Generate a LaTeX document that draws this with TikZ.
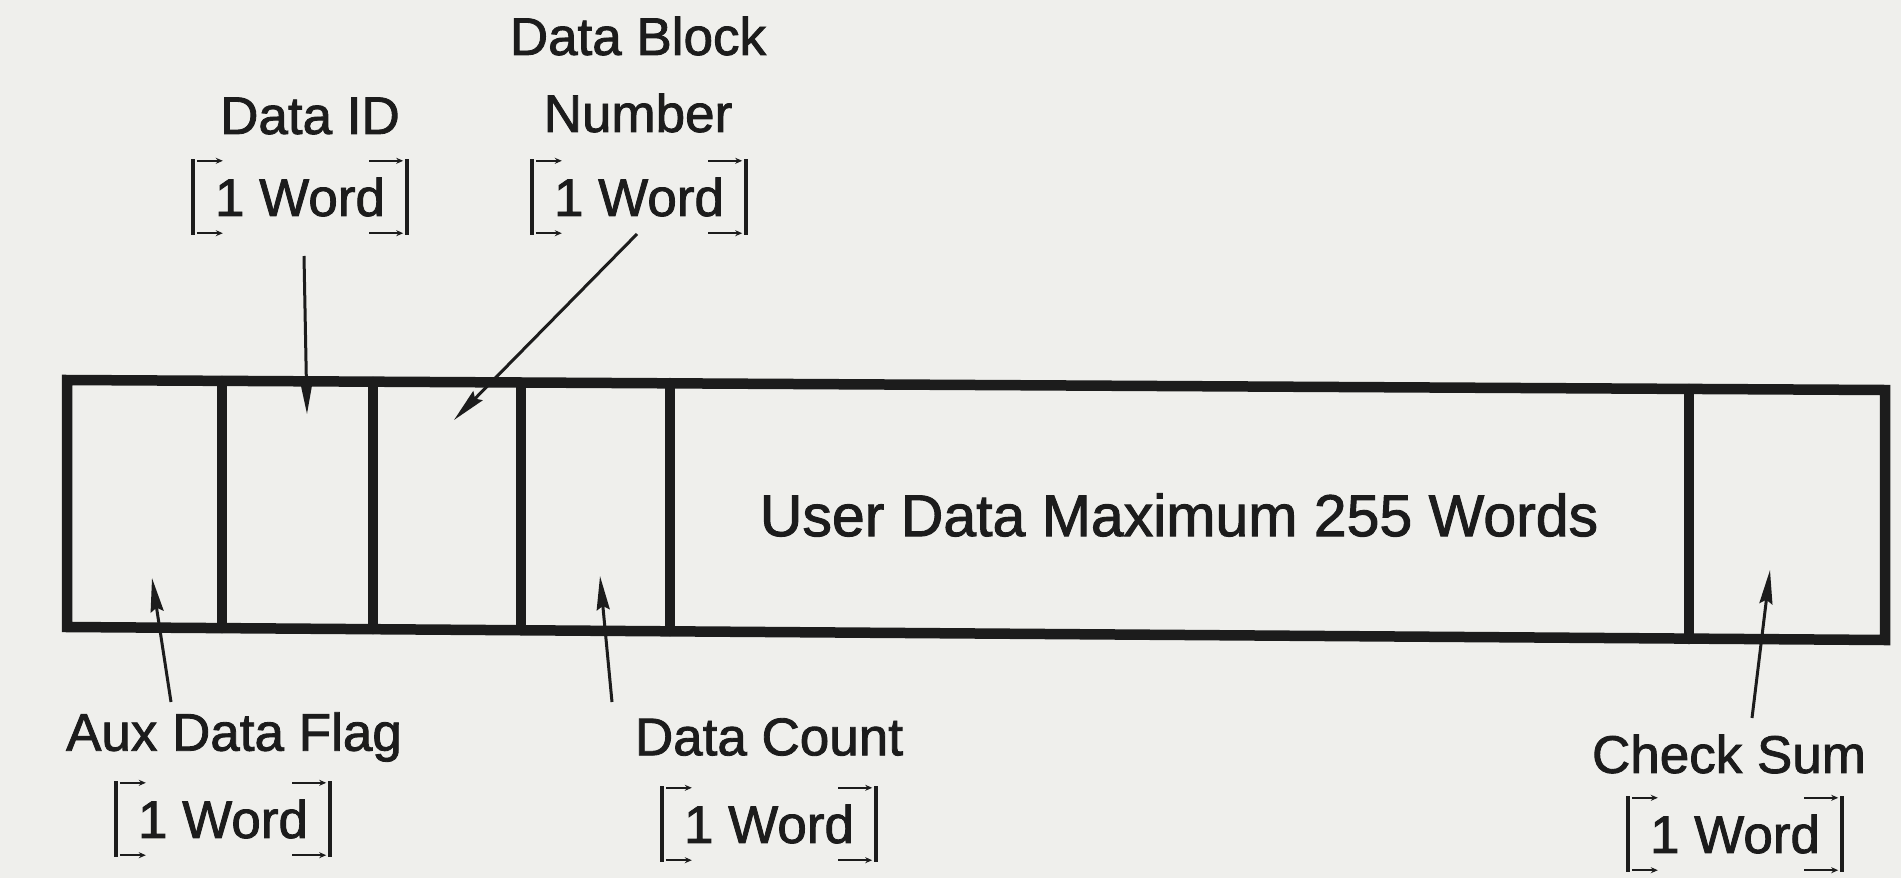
\documentclass[tikz,border=0pt]{standalone}
\usepackage{fontspec}
\setmainfont{Liberation Sans}[FakeBold=1.6]
\usetikzlibrary{arrows.meta}
\definecolor{paper}{RGB}{239,239,236}
\definecolor{ink}{RGB}{28,28,28}
\begin{document}
\begin{tikzpicture}[x=1pt,y=-1pt,
  boxline/.style={draw=ink,line width=10.5pt,line cap=round,line join=miter},
  lab/.style={font=\fontsize{53}{60}\selectfont,text=ink,inner sep=0pt},
  bigtxt/.style={font=\fontsize{59}{66}\selectfont,text=ink,inner sep=0pt},
  wordnode/.style={font=\fontsize{53}{60}\selectfont,text=ink,inner sep=0pt,minimum width=214pt,minimum height=72pt},
  brk/.style={draw=ink,line width=4.5pt},
  tick/.style={draw=ink,line width=2pt,-{Stealth[length=7pt,width=6pt]}},
  ptr/.style={draw=ink,line width=3pt,-{Stealth[length=34pt,width=13pt,inset=4pt]}}
]
\fill[paper] (0,0) rectangle (1901,878);
\useasboundingbox (0,0) rectangle (1901,878);

% cell corners (slightly tilted scan)
\coordinate (t0) at (67,380);   \coordinate (b0) at (67,627);
\coordinate (t1) at (222,381);  \coordinate (b1) at (222,628);
\coordinate (t2) at (373,382);  \coordinate (b2) at (373,629);
\coordinate (t3) at (521,382.5);\coordinate (b3) at (521,630);
\coordinate (t4) at (670,383);  \coordinate (b4) at (670,631);
\coordinate (t5) at (1689,389); \coordinate (b5) at (1689,639);
\coordinate (t6) at (1885,390); \coordinate (b6) at (1885,640);

\draw[boxline] (t0) -- (t6) -- (b6) -- (b0) -- cycle;
\foreach \i in {1,...,5} \draw[boxline] (t\i) -- (b\i);

\node[bigtxt] (user) at (1179,515) {User Data Maximum 255 Words};

% top labels
\node[lab] (blk1) at (638,36) {Data Block};
\node[lab] (blk2) at (638,113) {Number};
\node[wordnode] (wblk) at (639,197) {1 Word};
\node[lab] (did) at (310,116) {Data ID};
\node[wordnode] (wdid) at (300,197) {1 Word};

% bottom labels
\node[lab] (aux) at (234,737) {Aux Data Flag};
\node[wordnode] (waux) at (223,819) {1 Word};
\node[lab] (cnt) at (769,737) {Data Count};
\node[wordnode] (wcnt) at (769,824) {1 Word};
\node[lab] (chk) at (1729,754) {Check Sum};
\node[wordnode] (wchk) at (1735,834) {1 Word};

% brackets
\foreach \n in {wblk,wdid,waux,wcnt,wchk}{
  \draw[brk] ([xshift=2pt]\n.north west) -- (\n.north west) -- (\n.south west) -- ([xshift=2pt]\n.south west);
  \draw[brk] ([xshift=-2pt]\n.north east) -- (\n.north east) -- (\n.south east) -- ([xshift=-2pt]\n.south east);
  \draw[tick] ([xshift=4pt]\n.north west) -- ([xshift=30pt]\n.north west);
  \draw[tick] ([xshift=4pt]\n.south west) -- ([xshift=30pt]\n.south west);
  \draw[tick] ([xshift=-38pt]\n.north east) -- ([xshift=-4pt]\n.north east);
  \draw[tick] ([xshift=-38pt]\n.south east) -- ([xshift=-4pt]\n.south east);
}

% pointers
\coordinate (pdid) at (304,256);   \coordinate (adid) at (307,414);
\coordinate (pblk) at (637,234);   \coordinate (ablk) at (454,420);
\coordinate (paux) at (171,702);   \coordinate (aaux) at (152,578);
\coordinate (pcnt) at (612,702);   \coordinate (acnt) at (600,576);
\coordinate (pchk) at (1752,718);  \coordinate (achk) at (1770,570);
\draw[ptr] (pdid) -- (adid);
\draw[ptr] (pblk) -- (ablk);
\draw[ptr] (paux) -- (aaux);
\draw[ptr] (pcnt) -- (acnt);
\draw[ptr] (pchk) -- (achk);
\end{tikzpicture}
\end{document}
